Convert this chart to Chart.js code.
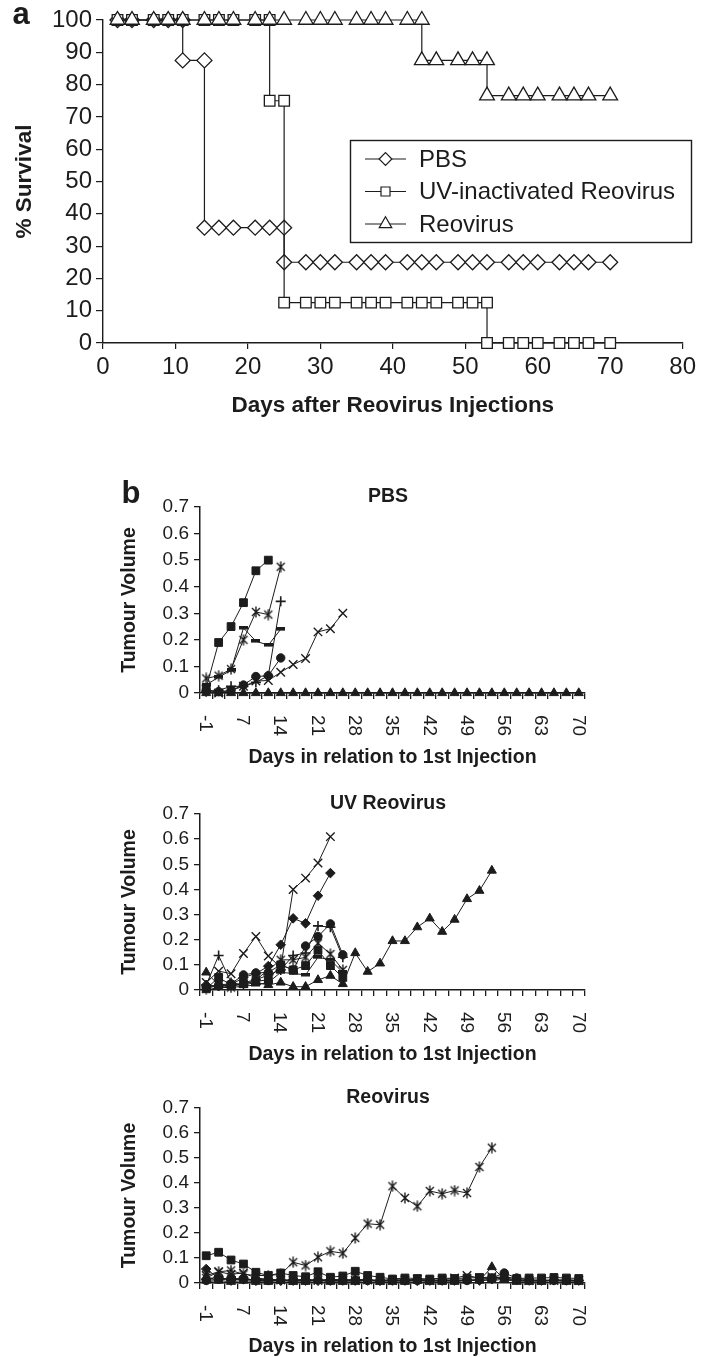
<!DOCTYPE html>
<html>
<head>
<meta charset="utf-8">
<script src="https://cdn.jsdelivr.net/npm/chart.js@4.4.0/dist/chart.umd.min.js"></script>
<style>
  body { margin: 0; background: #fff; }
  #page { position: relative; width: 702px; height: 1357px; overflow: hidden; }
  .panel { position: absolute; left: 0; width: 702px; }
</style>
</head>
<body>
<div id="page">
  <div class="panel" style="top:0;height:430px"><canvas id="survival"></canvas></div>
  <div class="panel" style="top:448px;height:330px"><canvas id="pbs"></canvas></div>
  <div class="panel" style="top:778px;height:292px"><canvas id="uv"></canvas></div>
  <div class="panel" style="top:1070px;height:287px"><canvas id="reo"></canvas></div>
</div>
<script>
var FONT = "'Liberation Sans', Arial, sans-serif";
var INK = '#1c1c1c';

// ---- a: % survival (Kaplan-Meier steps, a day appears twice where it drops) ----
var pbsSurvDays = [2,4,7,9,11,11,14,14,16,18,21,23,25,25,28,30,32,35,37,39,42,44,46,49,51,53,56,58,60,63,65,67,70];
var pbsSurvPct  = [100,100,100,100,100,87.5,87.5,35.7,35.7,35.7,35.7,35.7,35.7,25,25,25,25,25,25,25,25,25,25,25,25,25,25,25,25,25,25,25,25];
var uvSurvDays = [2,4,7,9,11,14,16,18,21,23,23,25,25,28,30,32,35,37,39,42,44,46,49,51,53,53,56,58,60,63,65,67,70];
var uvSurvPct  = [100,100,100,100,100,100,100,100,100,100,75,75,12.5,12.5,12.5,12.5,12.5,12.5,12.5,12.5,12.5,12.5,12.5,12.5,12.5,0,0,0,0,0,0,0,0];
var reoSurvDays = [2,4,7,9,11,14,16,18,21,23,25,28,30,32,35,37,39,42,44,44,46,49,51,53,53,56,58,60,63,65,67,70];
var reoSurvPct  = [100,100,100,100,100,100,100,100,100,100,100,100,100,100,100,100,100,100,100,87.5,87.5,87.5,87.5,87.5,76.6,76.6,76.6,76.6,76.6,76.6,76.6,76.6];
var survTicksX = [0,10,20,30,40,50,60,70,80];

// ---- b: tumour volume, one value per measurement day ----
var dayLabels = [-1,2,4,7,9,11,14,16,18,21,23,25,28,30,32,35,37,39,42,44,46,49,51,53,56,58,60,63,65,67,70];
var shownDays = [-1,7,14,21,28,35,42,49,56,63,70];

var pbsSquare   = [0.02,0.19,0.25,0.34,0.46,0.50];
var pbsStar     = [0.055,0.065,0.09,0.20,0.305,0.295,0.475];
var pbsPlus     = [0.005,0.01,0.025,0.025,0.04,0.065,0.345];
var pbsDash     = [0.03,0.06,0.085,0.245,0.195,0.18,0.24];
var pbsCircle   = [0.01,0.005,0.01,0.03,0.062,0.065,0.132];
var pbsCross    = [0.015,0,0.01,0.025,0.045,0.047,0.078,0.107,0.13,0.23,0.242,0.30];
var pbsTriangle = [0,0,0,0,0,0,0,0,0,0,0,0,0,0,0,0,0,0,0,0,0,0,0,0,0,0,0,0,0,0,0];

var uvCross    = [0.03,0.075,0.065,0.145,0.213,0.135,0.09,0.40,0.445,0.505,0.61];
var uvDiamond  = [0.02,0.015,0.02,0.05,0.065,0.095,0.18,0.285,0.265,0.375,0.465];
var uvCircle   = [0.01,0.02,0.025,0.06,0.068,0.07,0.10,0.08,0.175,0.213,0.263,0.14];
var uvSquare   = [0.005,0.05,0.02,0.025,0.035,0.04,0.10,0.08,0.097,0.158,0.097,0.05];
var uvPlus     = [0.02,0.137,0.03,0.02,0.04,0.06,0.08,0.137,0.147,0.255,0.25,0.13];
var uvStar     = [0.005,0.02,0.01,0.03,0.04,0.08,0.12,0.12,0.13,0.186,0.143,0.08];
var uvDash     = [0,0.01,0.01,0.015,0.02,0.03,0.07,0.066,0.06,0.13,0.12,0.07];
var uvTriangle = [0.07,0.02,0.02,0.02,0.03,0.02,0.03,0.013,0.013,0.04,0.057,0.024,0.147,0.073,0.106,0.195,0.195,0.25,0.285,0.232,0.28,0.362,0.395,0.475];

var reoStar     = [0.02,0.045,0.05,0.035,0.03,0.03,0.035,0.083,0.07,0.103,0.127,0.119,0.18,0.237,0.233,0.387,0.34,0.307,0.368,0.357,0.37,0.36,0.464,0.541];
var reoSquare   = [0.109,0.123,0.092,0.076,0.043,0.03,0.04,0.03,0.025,0.045,0.023,0.028,0.047,0.03,0.023,0.016,0.02,0.018,0.016,0.02,0.018,0.02,0.022,0.02,0.025,0.018,0.02,0.02,0.022,0.02,0.018];
var reoDiamond  = [0.056,0.02,0.012,0.015,0.01,0.012,0.01,0.012,0.01,0.01,0.012,0.01,0.012,0.01,0.01,0.012,0.01,0.01,0.012,0.01,0.01,0.012,0.01,0.015,0.02,0.012,0.01,0.01,0.012,0.01,0.01];
var reoTriangle = [0.025,0.01,0.005,0.01,0.005,0.005,0.01,0.005,0.005,0.01,0.005,0.005,0.005,0.01,0.005,0.005,0.005,0.01,0.005,0.005,0.005,0.01,0.01,0.064,0.015,0.005,0.005,0.005,0.01,0.005,0.005];
var reoCross    = [0.03,0.045,0.035,0.04,0.02,0.015,0.012,0.01,0.012,0.01,0.015,0.012,0.01,0.012,0.01,0.01,0.012,0.015,0.01,0.012,0.02,0.03,0.02,0.025,0.02,0.012,0.01,0.012,0.01,0.012,0.01];
var reoCircle   = [0.01,0.015,0.02,0.015,0.012,0.01,0.012,0.01,0.01,0.012,0.01,0.01,0.012,0.01,0.01,0.012,0.01,0.01,0.012,0.01,0.012,0.01,0.015,0.02,0.04,0.02,0.012,0.01,0.01,0.012,0.01];
var reoPlus     = [0.015,0.025,0.01,0.02,0.01,0.012,0.01,0.01,0.012,0.01,0.01,0.012,0.01,0.012,0.01,0.01,0.012,0.01,0.01];
var reoDash     = [0.005,0.01,0.02,0.012,0.015,0.012,0.01,0.012,0.015,0.01,0.012,0.01,0.015,0.012,0.01,0.012,0.01,0.012,0.01,0.01,0.012,0.01,0.012,0.01,0.015,0.01,0.012,0.01,0.01,0.012,0.01];

// Excel-like asterisk (x plus a vertical stroke) and bar markers, as small sprites
function sprite(w, h, paint) {
  var c = document.createElement('canvas');
  c.width = w; c.height = h;
  var g = c.getContext('2d');
  g.strokeStyle = INK; g.fillStyle = INK;
  paint(g);
  return c;
}
var asterisk = sprite(12, 12, function (g) {
  g.lineWidth = 1.4;
  g.beginPath();
  g.moveTo(2, 2); g.lineTo(10, 10);
  g.moveTo(10, 2); g.lineTo(2, 10);
  g.moveTo(6, 0.5); g.lineTo(6, 11.5);
  g.stroke();
});
var bar = sprite(9, 4, function (g) { g.fillRect(0, 0, 9, 3.5); });

var MARK = {
  diamond:  { pointStyle: 'rectRot',  pointRadius: 4.8, bw: 1 },
  square:   { pointStyle: 'rect',     pointRadius: 5.5, bw: 1 },
  triangle: { pointStyle: 'triangle', pointRadius: 5.2, bw: 1 },
  cross:    { pointStyle: 'crossRot', pointRadius: 6,   bw: 1.4 },
  star:     { pointStyle: asterisk,   pointRadius: 6,   bw: 1 },
  circle:   { pointStyle: 'circle',   pointRadius: 4.2, bw: 1 },
  plus:     { pointStyle: 'cross',    pointRadius: 5,   bw: 1.6 },
  dash:     { pointStyle: bar,        pointRadius: 5,   bw: 1 }
};

Chart.defaults.animation = false;
Chart.defaults.color = INK;
Chart.defaults.font.family = FONT;

function pairs(xs, ys) {
  return xs.map(function (x, i) { return { x: x, y: ys[i] }; });
}

function drawMarker(ctx, style, r, x, y) {
  if (Chart.helpers && Chart.helpers.drawPoint) {
    Chart.helpers.drawPoint(ctx, { pointStyle: style, radius: r, rotation: 0, borderWidth: ctx.lineWidth }, x, y);
  }
}

// ---------- panel a ----------
var survSeries = [
  { label: 'PBS', days: pbsSurvDays, pct: pbsSurvPct, style: 'rectRot', r: 7.5, order: 3 },
  { label: 'UV-inactivated Reovirus', days: uvSurvDays, pct: uvSurvPct, style: 'rect', r: 7.5, order: 2 },
  { label: 'Reovirus', days: reoSurvDays, pct: reoSurvPct, style: 'triangle', r: 8.5, order: 1 }
];

var survLegend = {
  id: 'survLegend',
  afterDraw: function (chart) {
    var ctx = chart.ctx;
    ctx.save();
    ctx.strokeStyle = INK;
    ctx.lineWidth = 1.4;
    ctx.strokeRect(350.5, 140.5, 341, 102);
    ctx.font = '24px ' + FONT;
    ctx.textBaseline = 'middle';
    ctx.textAlign = 'left';
    survSeries.forEach(function (s, i) {
      var y = 159 + i * 32.5;
      ctx.lineWidth = 1.2;
      ctx.beginPath();
      ctx.moveTo(365, y);
      ctx.lineTo(406, y);
      ctx.stroke();
      ctx.fillStyle = '#fff';
      drawMarker(ctx, s.style, s.r * 0.85, 385.5, y);
      ctx.fillStyle = INK;
      ctx.fillText(s.label, 419, y + 1);
    });
    ctx.font = 'bold 31px ' + FONT;
    ctx.textAlign = 'center';
    ctx.fillText('a', 21, 15);
    ctx.restore();
  }
};

new Chart(document.getElementById('survival'), {
  type: 'line',
  data: {
    datasets: survSeries.map(function (s) {
      return {
        label: s.label,
        data: pairs(s.days, s.pct),
        order: s.order,
        borderColor: INK,
        borderWidth: 1.2,
        pointStyle: s.style,
        pointRadius: s.r,
        pointBackgroundColor: '#fff',
        pointBorderColor: INK,
        pointBorderWidth: 1.3,
        tension: 0,
        clip: false
      };
    })
  },
  options: {
    responsive: true,
    maintainAspectRatio: false,
    layout: { padding: { top: 20, right: 16, left: 0, bottom: 0 } },
    plugins: { legend: { display: false }, tooltip: { enabled: false } },
    scales: {
      x: {
        type: 'linear', min: 0, max: 80,
        afterBuildTicks: function (s) { s.ticks = survTicksX.map(function (v) { return { value: v }; }); },
        ticks: { autoSkip: false, maxRotation: 0, font: { size: 24, lineHeight: 1 }, color: INK, padding: 6 },
        grid: { drawOnChartArea: false, tickLength: 6, color: INK, lineWidth: 1.2 },
        border: { color: INK, width: 1.4 },
        title: { display: true, text: 'Days after Reovirus Injections', color: INK,
                 font: { size: 22.5, weight: 'bold', lineHeight: 1 }, padding: { top: 0, bottom: 13 } },
        afterFit: function (s) { s.height = 87; }
      },
      y: {
        min: 0, max: 100,
        ticks: { autoSkip: false, stepSize: 10, font: { size: 24, lineHeight: 1 }, color: INK, padding: 4 },
        grid: { drawOnChartArea: false, tickLength: 7, color: INK, lineWidth: 1.2 },
        border: { color: INK, width: 1.4 },
        title: { display: true, text: '% Survival', color: INK,
                 font: { size: 22.5, weight: 'bold', lineHeight: 1 }, padding: { top: 14, bottom: 0 } },
        afterFit: function (s) { s.width = 103; }
      }
    }
  },
  plugins: [survLegend]
});

// ---------- panel b ----------
var panelDecor = {
  id: 'panelDecor',
  afterDraw: function (chart, args, opts) {
    var ctx = chart.ctx, area = chart.chartArea, xs = chart.scales.x;
    ctx.save();
    ctx.fillStyle = INK;
    ctx.textBaseline = 'middle';
    ctx.textAlign = 'center';
    ctx.font = 'bold 19.5px ' + FONT;
    ctx.fillText(opts.title, 388, area.top - 10);
    if (opts.tag) {
      ctx.font = 'bold 31px ' + FONT;
      ctx.fillText(opts.tag, 131, area.top - 13);
    }
    ctx.font = '19px ' + FONT;
    ctx.textAlign = 'left';
    dayLabels.forEach(function (d, i) {
      if (shownDays.indexOf(d) < 0) return;
      ctx.save();
      ctx.translate(xs.getPixelForValue(i), area.bottom + 22);
      ctx.rotate(Math.PI / 2);
      ctx.fillText(String(d), 0, 1);
      ctx.restore();
    });
    ctx.restore();
  }
};

function tumourChart(id, title, tag, series, padTop, axisH, titlePad) {
  return new Chart(document.getElementById(id), {
    type: 'line',
    data: {
      labels: dayLabels.map(String),
      datasets: series.map(function (s) {
        var m = MARK[s.mark];
        return {
          data: s.values,
          borderColor: INK,
          borderWidth: 1,
          backgroundColor: INK,
          pointStyle: m.pointStyle,
          pointRadius: m.pointRadius,
          pointBackgroundColor: INK,
          pointBorderColor: INK,
          pointBorderWidth: m.bw,
          tension: 0,
          spanGaps: false,
          clip: false
        };
      })
    },
    options: {
      responsive: true,
      maintainAspectRatio: false,
      layout: { padding: { top: padTop, right: 117, left: 0, bottom: 0 } },
      plugins: { legend: { display: false }, tooltip: { enabled: false }, panelDecor: { title: title, tag: tag } },
      scales: {
        x: {
          type: 'category', offset: true,
          ticks: { display: false },
          grid: { offset: true, drawOnChartArea: false, tickLength: 6, color: INK, lineWidth: 1.3 },
          border: { color: INK, width: 1.5 },
          title: { display: true, text: 'Days in relation to 1st Injection', color: INK,
                   font: { size: 19.5, weight: 'bold', lineHeight: 1 }, padding: { top: 0, bottom: titlePad } },
          afterFit: function (s) { s.height = axisH; }
        },
        y: {
          min: 0, max: 0.7,
          ticks: { autoSkip: false, stepSize: 0.1, font: { size: 19, lineHeight: 1 }, color: INK, padding: 5 },
          grid: { drawOnChartArea: false, tickLength: 6, color: INK, lineWidth: 1.3 },
          border: { color: INK, width: 1.5 },
          title: { display: true, text: 'Tumour Volume', color: INK,
                   font: { size: 19.5, weight: 'bold', lineHeight: 1 }, padding: { top: 120, bottom: 0 } },
          afterFit: function (s) { s.width = 200; }
        }
      }
    },
    plugins: [panelDecor]
  });
}

tumourChart('pbs', 'PBS', 'b', [
  { mark: 'triangle', values: pbsTriangle },
  { mark: 'square', values: pbsSquare },
  { mark: 'star', values: pbsStar },
  { mark: 'plus', values: pbsPlus },
  { mark: 'dash', values: pbsDash },
  { mark: 'circle', values: pbsCircle },
  { mark: 'cross', values: pbsCross }
], 59, 85, 11);

tumourChart('uv', 'UV Reovirus', null, [
  { mark: 'cross', values: uvCross },
  { mark: 'diamond', values: uvDiamond },
  { mark: 'circle', values: uvCircle },
  { mark: 'square', values: uvSquare },
  { mark: 'plus', values: uvPlus },
  { mark: 'star', values: uvStar },
  { mark: 'dash', values: uvDash },
  { mark: 'triangle', values: uvTriangle }
], 36, 80, 6);

tumourChart('reo', 'Reovirus', null, [
  { mark: 'star', values: reoStar },
  { mark: 'triangle', values: reoTriangle },
  { mark: 'circle', values: reoCircle },
  { mark: 'square', values: reoSquare },
  { mark: 'diamond', values: reoDiamond },
  { mark: 'cross', values: reoCross },
  { mark: 'plus', values: reoPlus },
  { mark: 'dash', values: reoDash }
], 38, 74, 0.5);
</script>
</body>
</html>
